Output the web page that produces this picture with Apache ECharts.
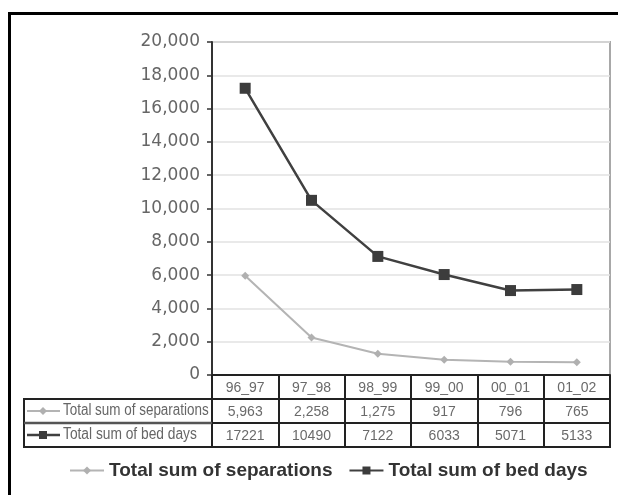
<!DOCTYPE html>
<html><head><meta charset="utf-8">
<script src="https://cdn.jsdelivr.net/npm/echarts@6/dist/echarts.min.js"></script>
<style>html,body{margin:0;padding:0;background:#fff}#c{width:618px;height:495px}</style>
</head><body><div id="c"></div>
<script>
const categories = ['96_97','97_98','98_99','99_00','00_01','01_02'];
const separations = [5963, 2258, 1275, 917, 796, 765];
const bedDays = [17221, 10490, 7122, 6033, 5071, 5133];
const seriesNames = ['Total sum of separations', 'Total sum of bed days'];
const yTicks = {min: 0, max: 20000, interval: 2000};

const tableFont = "'Liberation Sans', Arial, sans-serif";
const fmt = v => v.toLocaleString('en-US');
const chart = echarts.init(document.getElementById('c'), null, {renderer: 'canvas'});
const tableAxisBase = {
  type: 'category', position: 'bottom', gridIndex: 0, boundaryGap: true,
  axisLine: {show: true, lineStyle: {color: '#222', width: 2}},
  axisTick: {show: true, length: 24, interval: 0, lineStyle: {color: '#222', width: 2}},
  axisLabel: {interval: 0, margin: 6, color: '#6a6a6a', fontFamily: tableFont, fontSize: 14},
  splitLine: {show: false}
};
chart.setOption({
  animation: false,
  backgroundColor: '#fff',
  grid: {left: 212, right: 8, top: 42, bottom: 120, show: true, borderColor: '#a8a8a8', borderWidth: 2},
  xAxis: [
    Object.assign({}, tableAxisBase, {data: categories, offset: 0}),
    Object.assign({}, tableAxisBase, {data: separations.map(fmt), offset: 24}),
    Object.assign({}, tableAxisBase, {data: bedDays.map(String), offset: 48})
  ],
  yAxis: {
    type: 'value', min: yTicks.min, max: yTicks.max, interval: yTicks.interval,
    axisLine: {show: true, lineStyle: {color: '#333', width: 2}},
    axisTick: {show: true, length: 5, lineStyle: {color: '#333', width: 1.5}},
    axisLabel: {margin: 12, color: '#666', fontFamily: "'DejaVu Sans', sans-serif", fontSize: 17, formatter: v => fmt(v)},
    splitLine: {show: true, lineStyle: {color: '#e2e2e2', width: 1.5}}
  },
  legend: {
    left: 64, top: 456, itemWidth: 34, itemHeight: 10, itemGap: 16,
    textStyle: {fontFamily: "'Liberation Sans', Arial, sans-serif", fontWeight: 'bold', fontSize: 19, color: '#333'},
    data: seriesNames
  },
  series: [
    {name: seriesNames[0], type: 'line', xAxisIndex: 0, data: separations,
     symbol: 'diamond', symbolSize: 8,
     itemStyle: {color: '#b0b0b0'}, lineStyle: {color: '#b4b4b4', width: 2}},
    {name: seriesNames[1], type: 'line', xAxisIndex: 0, data: bedDays,
     symbol: 'rect', symbolSize: 11,
     itemStyle: {color: '#3c3c3c'}, lineStyle: {color: '#404040', width: 2.5}}
  ],
  graphic: [
    {type: 'rect', shape: {x: 9.5, y: 13.5, width: 700, height: 600}, style: {fill: 'none', stroke: '#000', lineWidth: 3}, z: 100},
    {type: 'rect', shape: {x: 24, y: 399, width: 188, height: 48}, style: {fill: 'none', stroke: '#222', lineWidth: 2}, z: 100},
    {type: 'line', shape: {x1: 24, y1: 423, x2: 212, y2: 423}, style: {stroke: '#555', lineWidth: 2.5}, z: 100},
    {type: 'line', shape: {x1: 212, y1: 447, x2: 611, y2: 447}, style: {stroke: '#222', lineWidth: 2}, z: 100},
    {type: 'line', shape: {x1: 27, y1: 411, x2: 60, y2: 411}, style: {stroke: '#b4b4b4', lineWidth: 2}, z: 100},
    {type: 'polygon', shape: {points: [[43, 407], [47, 411], [43, 415], [39, 411]]}, style: {fill: '#b0b0b0'}, z: 101},
    {type: 'line', shape: {x1: 27, y1: 435, x2: 60, y2: 435}, style: {stroke: '#404040', lineWidth: 2.5}, z: 100},
    {type: 'rect', shape: {x: 39, y: 431, width: 8, height: 8}, style: {fill: '#3c3c3c'}, z: 101},
    {type: 'text', x: 63, y: 403, scaleX: 0.84, style: {text: seriesNames[0], font: "16px " + tableFont, fill: '#666'}, z: 100},
    {type: 'text', x: 63, y: 427, scaleX: 0.86, style: {text: seriesNames[1], font: "16px " + tableFont, fill: '#666'}, z: 100}
  ]
});
</script></body></html>
